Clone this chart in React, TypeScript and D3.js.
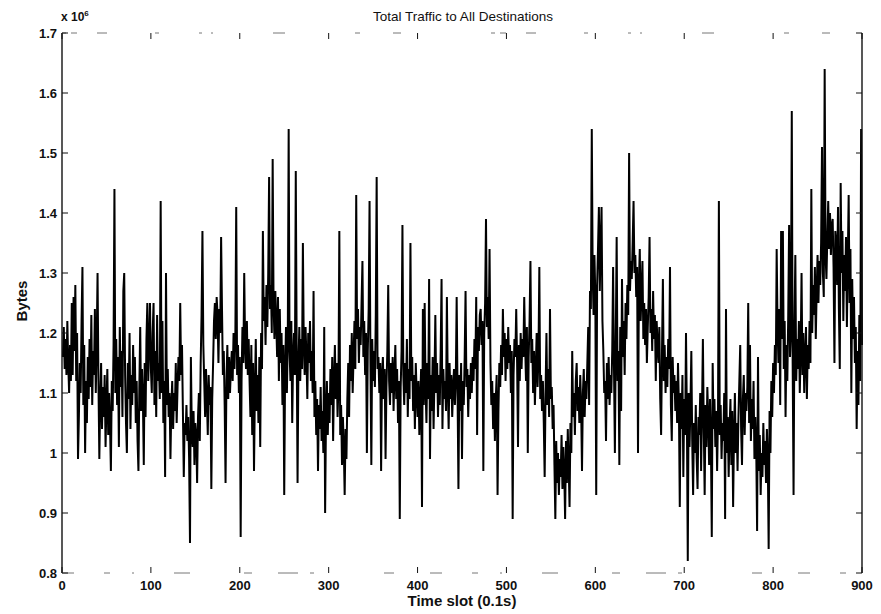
import React from "react";
import * as d3 from "d3";

// Total bytes per 0.1 s time slot, in units of 1e6, slots 1..900 (ten per row)
const traffic: number[] = [
  1.16, 1.21, 1.14, 1.19, 1.13, 1.22, 1.15, 1.10, 1.18, 1.12,
  1.25, 1.13, 1.26, 1.17, 1.28, 1.12, 1.20, 0.99, 1.06, 1.15,
  1.10, 1.22, 1.31, 1.08, 1.18, 1.00, 1.12, 1.05, 1.16, 1.09,
  1.19, 1.11, 1.23, 1.08, 1.17, 1.13, 1.24, 1.10, 1.18, 1.30,
  1.12, 0.99, 1.09, 1.15, 1.04, 1.11, 1.06, 1.13, 1.01, 1.08,
  1.14, 1.03, 1.10, 1.05, 0.97, 1.12, 1.07, 1.18, 1.44, 1.10,
  1.19, 1.08, 1.16, 1.01, 1.21, 1.11, 1.17, 1.06, 1.27, 1.30,
  1.13, 1.05, 1.00, 1.15, 1.09, 1.20, 1.04, 1.13, 1.08, 1.18,
  1.10, 1.16, 1.05, 1.12, 1.02, 0.97, 1.11, 1.21, 1.07, 1.14,
  1.09, 0.98, 1.15, 1.06, 1.19, 1.25, 1.12, 1.18, 1.25, 1.14,
  1.10, 1.20, 1.25, 1.08, 1.17, 1.06, 1.23, 1.12, 1.15, 1.09,
  1.42, 1.10, 1.22, 1.05, 1.12, 0.96, 1.30, 1.08, 1.14, 1.06,
  1.10, 0.99, 1.08, 1.12, 1.04, 1.10, 1.07, 1.15, 1.05, 1.11,
  1.16, 1.12, 1.25, 1.13, 1.18, 1.07, 0.96, 1.05, 1.03, 1.08,
  1.02, 1.06, 0.99, 0.85, 1.16, 1.04, 1.01, 1.07, 0.98, 1.05,
  1.03, 0.95, 1.06, 1.10, 1.02, 1.15, 1.23, 1.37, 1.18, 1.12,
  1.06, 1.14, 1.09, 1.03, 1.13, 1.08, 1.11, 0.94, 1.09, 1.15,
  1.22, 1.25, 1.19, 1.26, 1.23, 1.15, 1.24, 1.20, 1.36, 1.24,
  1.13, 1.17, 1.08, 0.95, 1.12, 1.18, 1.09, 1.16, 1.10, 1.14,
  1.17, 1.12, 1.20, 1.14, 1.19, 1.41, 1.13, 1.18, 1.10, 1.16,
  0.86, 1.12, 1.21, 1.15, 1.30, 1.18, 1.14, 1.22, 1.13, 1.19,
  1.12, 1.06, 1.18, 1.03, 1.15, 0.97, 1.10, 1.19, 1.07, 1.13,
  1.05, 1.16, 1.01, 1.20, 1.14, 1.37, 1.22, 1.26, 1.18, 1.28,
  1.21, 1.30, 1.46, 1.24, 1.28, 1.20, 1.49, 1.25, 1.19, 1.27,
  1.22, 1.16, 1.26, 1.12, 1.24, 1.15, 1.20, 1.08, 1.18, 0.93,
  1.14, 1.21, 1.10, 1.19, 1.54, 1.17, 1.12, 1.22, 1.05, 1.16,
  1.20, 1.13, 1.47, 1.18, 0.95, 1.15, 1.21, 1.12, 1.19, 1.14,
  1.35, 1.18, 1.13, 1.21, 1.16, 1.09, 1.20, 1.15, 1.22, 1.12,
  1.17, 1.10, 1.27, 1.06, 1.12, 1.03, 1.09, 0.97, 1.08, 1.04,
  1.11, 1.02, 1.07, 1.00, 1.21, 0.90, 1.06, 1.12, 1.03, 1.10,
  1.05, 1.14, 1.08, 1.16, 1.02, 1.12, 1.18, 1.09, 1.15, 1.06,
  1.11, 1.37, 1.03, 1.08, 0.98, 1.06, 1.01, 0.93, 1.04, 0.99,
  1.09, 1.15, 1.06, 1.18, 1.12, 1.20, 1.10, 1.16, 1.22, 1.14,
  1.43, 1.19, 1.24, 1.15, 1.21, 1.18, 1.25, 1.32, 1.16, 1.22,
  1.13, 1.20, 1.00, 1.17, 1.24, 1.42, 1.15, 0.98, 1.19, 1.12,
  1.17, 1.11, 1.23, 1.46, 1.14, 1.16, 1.10, 1.15, 0.97, 1.13,
  1.16, 1.09, 1.14, 0.99, 1.11, 1.17, 1.28, 1.12, 1.08, 1.15,
  1.10, 1.16, 1.07, 1.13, 1.18, 1.09, 1.14, 1.05, 1.12, 0.89,
  1.11, 1.17, 1.38, 1.13, 1.08, 1.15, 1.10, 1.19, 1.06, 1.14,
  1.09, 1.35, 1.12, 1.16, 1.07, 1.13, 1.04, 1.15, 1.10, 1.06,
  1.12, 1.03, 1.09, 1.14, 0.91, 1.24, 1.08, 1.25, 1.11, 1.05,
  1.15, 1.09, 1.29, 0.99, 1.13, 1.07, 1.16, 1.04, 1.12, 1.23,
  1.10, 1.15, 1.06, 1.13, 1.08, 1.17, 1.29, 1.04, 1.14, 1.09,
  1.12, 1.07, 1.26, 1.11, 1.04, 1.15, 1.09, 1.13, 1.06, 1.11,
  1.14, 1.08, 1.12, 1.26, 1.10, 0.94, 1.13, 1.07, 1.15, 0.99,
  1.12, 1.08, 1.16, 1.27, 1.11, 1.14, 1.06, 1.13, 1.09, 1.15,
  1.10, 1.16, 1.12, 1.19, 1.14, 1.26, 1.03, 1.21, 1.17, 1.23,
  1.24, 1.18, 1.22, 0.97, 1.20, 1.25, 1.39, 1.21, 1.26, 1.19,
  1.34, 1.15, 1.08, 1.12, 1.04, 1.10, 1.02, 1.09, 1.13, 0.93,
  1.07, 1.15, 1.11, 1.18, 1.13, 1.24, 1.16, 1.20, 1.12, 1.19,
  1.14, 1.21, 1.15, 1.18, 1.10, 1.17, 0.89, 1.13, 1.19, 1.16,
  1.24, 1.15, 1.01, 1.18, 1.12, 1.20, 1.14, 1.19, 1.16, 1.26,
  1.18, 1.12, 1.21, 1.00, 1.16, 1.22, 1.32, 1.15, 1.19, 1.10,
  1.17, 1.08, 1.14, 1.20, 1.11, 1.16, 1.31, 1.09, 1.13, 1.07,
  1.12, 1.05, 0.96, 1.10, 1.20, 1.08, 1.14, 1.06, 1.24, 1.09,
  1.11, 1.04, 1.08, 0.98, 0.89, 1.02, 0.95, 1.00, 0.93, 0.99,
  0.96, 1.03, 0.94, 1.01, 0.97, 0.89, 1.02, 0.95, 1.04, 0.98,
  0.91, 1.05, 1.00, 1.17, 1.06, 1.10, 1.03, 1.12, 1.15, 1.07,
  1.11, 1.05, 1.13, 1.08, 0.97, 1.10, 1.14, 1.06, 1.12, 1.09,
  1.15, 1.21, 1.08, 1.27, 1.24, 1.54, 1.30, 1.23, 1.33, 1.26,
  0.93, 1.28, 1.34, 1.41, 1.27, 1.35, 1.41, 1.22, 1.17, 1.10,
  1.12, 1.02, 1.15, 1.09, 1.16, 1.08, 1.13, 1.10, 1.17, 1.31,
  1.14, 1.00, 1.19, 1.36, 1.12, 1.17, 0.98, 1.21, 1.07, 1.29,
  1.16, 1.22, 1.13, 1.25, 1.19, 1.28, 1.23, 1.50, 1.27, 1.32,
  1.29, 1.35, 1.42, 1.30, 1.33, 1.26, 1.31, 1.00, 1.28, 1.34,
  1.22, 1.27, 1.32, 1.19, 1.25, 1.18, 1.24, 1.15, 1.21, 1.26,
  1.36, 1.20, 1.24, 1.17, 1.27, 1.19, 1.23, 1.12, 1.22, 1.18,
  1.15, 1.21, 1.09, 1.03, 1.17, 1.29, 1.12, 1.18, 1.10, 1.16,
  1.11, 1.19, 1.14, 1.31, 1.08, 1.02, 1.16, 1.10, 1.13, 1.07,
  1.12, 1.05, 1.15, 1.08, 0.91, 1.10, 1.04, 1.13, 0.96, 1.09,
  1.03, 1.20, 1.06, 0.82, 1.10, 1.01, 1.08, 1.17, 1.02, 0.93,
  1.05, 1.00, 1.08, 0.99, 0.94, 1.06, 1.03, 1.10, 0.97, 1.07,
  1.19, 1.04, 0.93, 1.08, 1.01, 1.11, 1.06, 0.98, 1.09, 1.02,
  0.86, 1.15, 1.04, 1.09, 1.01, 1.07, 0.97, 1.06, 1.42, 1.03,
  1.08, 0.99, 1.05, 1.02, 1.10, 0.89, 1.24, 1.00, 1.06, 0.96,
  1.04, 1.09, 0.98, 1.07, 0.91, 1.03, 1.10, 1.00, 1.05, 0.97,
  1.06, 1.12, 1.18, 1.04, 0.98, 1.09, 1.13, 1.03, 1.10, 1.07,
  1.11, 1.25, 1.05, 1.18, 1.02, 1.09, 1.04, 1.12, 0.99, 1.06,
  1.01, 0.87, 1.16, 0.97, 1.03, 0.93, 1.00, 0.96, 1.05, 0.98,
  1.02, 0.95, 1.04, 0.99, 0.84, 1.07, 1.00, 1.12, 1.06, 1.15,
  1.10, 1.18, 1.13, 1.34, 1.21, 1.15, 1.24, 1.08, 1.37, 1.19,
  1.37, 1.14, 1.22, 1.06, 1.18, 1.12, 1.23, 1.38, 1.16, 1.20,
  1.57, 1.15, 0.93, 1.21, 1.33, 1.12, 1.19, 1.14, 1.22, 1.10,
  1.17, 1.30, 1.13, 1.20, 1.10, 1.16, 1.21, 1.09, 1.18, 1.14,
  1.22, 1.15, 1.44, 1.20, 1.28, 1.23, 1.31, 1.19, 1.27, 1.33,
  1.25, 1.32, 1.28, 1.35, 1.51, 1.30, 1.26, 1.64, 1.33, 1.29,
  1.36, 1.42, 1.34, 1.40, 1.33, 1.38, 1.39, 1.31, 1.15, 1.37,
  1.35, 1.28, 1.41, 1.24, 1.14, 1.45, 1.30, 1.37, 1.22, 1.33,
  1.27, 1.36, 1.21, 1.32, 1.43, 1.25, 1.34, 1.10, 1.29, 1.19,
  1.26, 1.15, 1.21, 1.04, 1.17, 1.08, 1.23, 1.12, 1.54, 1.18,
];

const xTicks = [0, 100, 200, 300, 400, 500, 600, 700, 800, 900];
const yTicks = [0.8, 0.9, 1.0, 1.1, 1.2, 1.3, 1.4, 1.5, 1.6, 1.7];
const yTickLabels = ["0.8", "0.9", "1", "1.1", "1.2", "1.3", "1.4", "1.5", "1.6", "1.7"];

const W = 881;
const H = 614;
const left = 62;
const right = 862;
const top = 33;
const bottom = 573;
const FONT = "'Liberation Sans', Arial, Helvetica, sans-serif";

export default function App() {
  const x = d3.scaleLinear().domain([0, 900]).range([left, right]);
  const y = d3.scaleLinear().domain([0.8, 1.7]).range([bottom, top]);

  const line = d3
    .line<number>()
    .x((_, i) => x(i + 1))
    .y((d) => y(d));

  const tickLen = 6;

  return (
    <svg
      width={W}
      height={H}
      viewBox={`0 0 ${W} ${H}`}
      style={{ position: "absolute", left: 0, top: 0, background: "#fff" }}
    >
      <rect x={0} y={0} width={W} height={H} fill="#fff" />

      {/* title */}
      <text x={463} y={21} textAnchor="middle" fontFamily={FONT} fontSize={13.5} fill="#111">
        Total Traffic to All Destinations
      </text>

      {/* exponent marker */}
      <text x={61} y={21} fontFamily={FONT} fontSize={12} fontWeight="bold" fill="#111">
        x 10
        <tspan dy={-5} fontSize={8}>6</tspan>
      </text>

      {/* data line */}
      <path d={line(traffic) ?? ""} fill="none" stroke="#000" strokeWidth={2} strokeLinejoin="miter" />

      {/* frame: solid sides, broken top/bottom */}
      <line x1={left} x2={left} y1={top} y2={bottom} stroke="#111" strokeWidth={1.4} />
      <line x1={right} x2={right} y1={top} y2={bottom} stroke="#111" strokeWidth={1.4} />
      <line
        x1={left}
        x2={right}
        y1={top}
        y2={top}
        stroke="#777"
        strokeWidth={1}
        strokeDasharray="4 5 6 20 10 48 4 40 3 9 2 60 12 70 5 33 8 90"
      />
      <line
        x1={left}
        x2={right}
        y1={bottom}
        y2={bottom}
        stroke="#777"
        strokeWidth={1}
        strokeDasharray="12 30 6 22 2 40 16 54 8 26 20 12 4 70 10 36"
      />

      {/* x ticks and labels */}
      {xTicks.map((t) => (
        <g key={`x${t}`}>
          <line x1={x(t)} x2={x(t)} y1={bottom} y2={bottom - tickLen} stroke="#111" strokeWidth={1} />
          <line x1={x(t)} x2={x(t)} y1={top} y2={top + tickLen} stroke="#111" strokeWidth={1} />
          <text
            x={x(t)}
            y={bottom + 17}
            textAnchor="middle"
            fontFamily={FONT}
            fontSize={13}
            fontWeight="bold"
            fill="#111"
          >
            {t}
          </text>
        </g>
      ))}

      {/* y ticks and labels */}
      {yTicks.map((t, i) => (
        <g key={`y${t}`}>
          <line x1={left} x2={left + tickLen} y1={y(t)} y2={y(t)} stroke="#111" strokeWidth={1} />
          <line x1={right} x2={right - tickLen} y1={y(t)} y2={y(t)} stroke="#111" strokeWidth={1} />
          <text
            x={left - 5}
            y={y(t) + 5}
            textAnchor="end"
            fontFamily={FONT}
            fontSize={13}
            fontWeight="bold"
            fill="#111"
          >
            {yTickLabels[i]}
          </text>
        </g>
      ))}

      {/* axis titles */}
      <text x={462} y={606} textAnchor="middle" fontFamily={FONT} fontSize={15} fontWeight="bold" fill="#111">
        Time slot (0.1s)
      </text>
      <text
        transform={`translate(27, ${(top + bottom) / 2 - 2}) rotate(-90)`}
        textAnchor="middle"
        fontFamily={FONT}
        fontSize={15}
        fontWeight="bold"
        fill="#111"
      >
        Bytes
      </text>
    </svg>
  );
}
